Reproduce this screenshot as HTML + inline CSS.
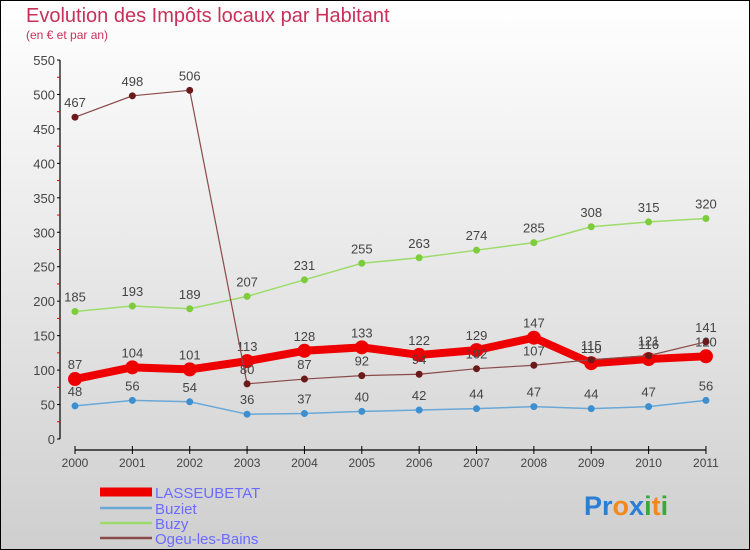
<!DOCTYPE html>
<html><head><meta charset="utf-8"><style>
body{margin:0}
svg{display:block;font-family:"Liberation Sans",sans-serif}
</style></head><body>
<svg id="c" width="750" height="550" xmlns="http://www.w3.org/2000/svg">
<defs><linearGradient id="bg" x1="0" y1="0" x2="0" y2="1"><stop offset="0" stop-color="#ffffff"/><stop offset="1" stop-color="#cfcfcf"/></linearGradient></defs>
<rect x="0.5" y="0.5" width="749" height="549" fill="url(#bg)" stroke="#000"/>
<text x="26" y="22" font-size="20" fill="#c8305a">Evolution des Impôts locaux par Habitant</text>
<text x="26" y="39" font-size="12" fill="#c8305a">(en € et par an)</text>
<g id="axes"></g>
<g id="series"></g>
<g>
<line x1="100" y1="492" x2="152" y2="492" stroke="#e00" stroke-width="9"/>
<text x="155" y="498" font-size="15" fill="#6b6bff">LASSEUBETAT</text>
<line x1="100" y1="508" x2="152" y2="508" stroke="#6aa8d8" stroke-width="2.5"/>
<text x="155" y="514" font-size="15" fill="#6b6bff">Buziet</text>
<line x1="100" y1="523" x2="152" y2="523" stroke="#9ddc6a" stroke-width="2.5"/>
<text x="155" y="529" font-size="15" fill="#6b6bff">Buzy</text>
<line x1="100" y1="538" x2="152" y2="538" stroke="#8a4a4a" stroke-width="2.5"/>
<text x="155" y="544" font-size="15" fill="#6b6bff">Ogeu-les-Bains</text>
</g>
<text x="584" y="515" font-size="27" font-weight="bold"><tspan fill="#2a7fd4">Pr</tspan><tspan fill="#f08a1c">o</tspan><tspan fill="#2a7fd4">x</tspan><tspan fill="#3aa83a">i</tspan><tspan fill="#f08a1c">t</tspan><tspan fill="#3aa83a">i</tspan></text>
</svg>
<script>
const years=["2000","2001","2002","2003","2004","2005","2006","2007","2008","2009","2010","2011"];
const yTicks=[0,50,100,150,200,250,300,350,400,450,500,550];
const lasseubetat=[87,104,101,113,128,133,122,129,147,110,116,120];
const buziet=[48,56,54,36,37,40,42,44,47,44,47,56];
const buzy=[185,193,189,207,231,255,263,274,285,308,315,320];
const ogeu=[467,498,506,80,87,92,94,102,107,115,121,141];
const NS="http://www.w3.org/2000/svg";
const x=i=>75+i*57.36;
const y=v=>439-v*0.6891;
function mk(t,a,p){const e=document.createElementNS(NS,t);for(const k in a)e.setAttribute(k,a[k]);p.appendChild(e);return e;}
const ax=document.getElementById('axes');
mk('line',{x1:60,y1:y(550),x2:60,y2:y(0),stroke:'#000','stroke-width':1.2},ax);
mk('line',{x1:x(0),y1:450,x2:x(11),y2:450,stroke:'#000','stroke-width':1.2},ax);
yTicks.forEach((v,i)=>{
 mk('line',{x1:57,y1:y(v),x2:60,y2:y(v),stroke:'#000'},ax);
 if(i<yTicks.length-1)mk('line',{x1:57,y1:y(v+25),x2:60,y2:y(v+25),stroke:'#e00'},ax);
 const t=mk('text',{x:55,y:y(v)+5,'text-anchor':'end','font-size':13,fill:'#444'},ax);
 
 
 t.textContent=v;
});
years.forEach((yr,i)=>{
 mk('line',{x1:x(i),y1:446,x2:x(i),y2:454,stroke:'#000'},ax);
 const t=mk('text',{x:x(i),y:467,'text-anchor':'middle','font-size':12,fill:'#444'},ax);
 
 
 t.textContent=yr;
});
const sg=document.getElementById('series');
function draw(data,name,color,dot,w,r){
 const g=mk('g',{},sg);
 
 
 mk('polyline',{points:data.map((v,i)=>x(i)+','+y(v)).join(' '),fill:'none',stroke:color,'stroke-width':w,'stroke-linejoin':'round'},g);
 data.forEach((v,i)=>{
  const c=mk('circle',{cx:x(i),cy:y(v),r:r,fill:dot},g);
  
  
  const t=mk('text',{x:x(i),y:y(v)-10,'text-anchor':'middle','font-size':13,fill:'#444'},g);
  
  
  t.textContent=v;
 });
}
draw(buziet,'buziet','#6aa8d8','#3d8fd0',1.5,3.5);
draw(buzy,'buzy','#9ddc6a','#7ccc3c',1.5,3.5);
draw(lasseubetat,'lasseubetat','#e00','#e00',8,7);
draw(ogeu,'ogeu','#8a4a4a','#6a1a1a',1.2,3.5);
</script>
</body></html>
